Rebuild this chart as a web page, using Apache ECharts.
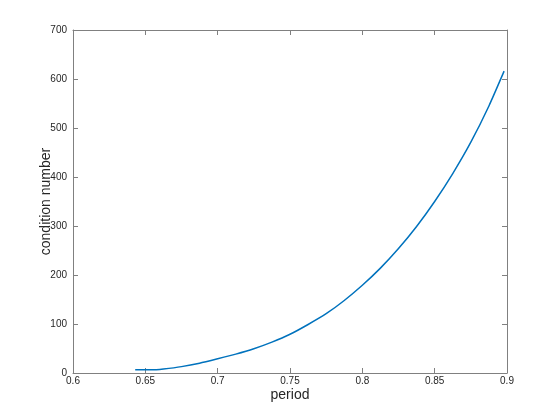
<!DOCTYPE html>
<html>
<head>
<meta charset="utf-8">
<script src="https://cdn.jsdelivr.net/npm/echarts@6/dist/echarts.min.js"></script>
<style>
  html, body { margin: 0; padding: 0; background: #fff; }
  #chart { width: 560px; height: 420px; }
</style>
</head>
<body>
<div id="chart"></div>
<script>
// period values and the condition number
const periods = [0.643, 0.65, 0.6575, 0.6625, 0.675, 0.6875, 0.7, 0.7125, 0.725, 0.7375, 0.75,
  0.7625, 0.775, 0.7875, 0.8, 0.8125, 0.825, 0.8375, 0.85, 0.8625, 0.875, 0.8875, 0.898]
const condNumbers = [6.7, 6.6, 6.8, 8, 13, 20, 29, 38.5, 49.5, 63, 79,
  99, 121, 148, 179, 214, 254, 299, 350, 407, 471, 545, 616]

const xTicks = { min: 0.6, max: 0.9, step: 0.05 }
const yTicks = { min: 0, max: 700, step: 100 }

const axisGray = '#808080'
const textColor = '#262626'
const font = 'Liberation Sans, Arial, Helvetica, sans-serif'

const points = periods.map((p, i) => [p, condNumbers[i]])

const myChart = echarts.init(document.getElementById('chart'))

function baseAxis(extra) {
  return Object.assign({
    type: 'value',
    axisLine: { show: true, onZero: false, lineStyle: { color: axisGray, width: 1 } },
    axisTick: { show: true, inside: true, length: 5, lineStyle: { color: axisGray } },
    splitLine: { show: false }
  }, extra)
}

myChart.setOption({
  animation: false,
  grid: { left: 73, right: 53, top: 30, bottom: 47, containLabel: false },
  xAxis: [
    baseAxis({
      position: 'bottom',
      min: xTicks.min, max: xTicks.max, interval: xTicks.step,
      name: 'period', nameLocation: 'middle', nameGap: 15, nameMoveOverlap: false,
      nameTextStyle: { fontSize: 14, color: textColor, fontFamily: font },
      axisLabel: {
        margin: 3, fontSize: 10, color: textColor, fontFamily: font,
        formatter: v => String(+v.toFixed(2))
      }
    }),
    baseAxis({
      position: 'top',
      min: xTicks.min, max: xTicks.max, interval: xTicks.step,
      axisLabel: { show: false }
    })
  ],
  yAxis: [
    baseAxis({
      position: 'left',
      min: yTicks.min, max: yTicks.max, interval: yTicks.step,
      name: 'condition number', nameLocation: 'middle', nameGap: 20, nameMoveOverlap: false,
      nameTextStyle: { fontSize: 14, color: textColor, fontFamily: font },
      axisLabel: { margin: 6, fontSize: 10, color: textColor, fontFamily: font }
    }),
    baseAxis({
      position: 'right',
      min: yTicks.min, max: yTicks.max, interval: yTicks.step,
      axisLabel: { show: false }
    })
  ],
  series: [
    {
      type: 'line',
      data: points,
      smooth: 0.2,
      showSymbol: false,
      lineStyle: { color: '#0072BD', width: 1.5 }
    }
  ]
})
</script>
</body>
</html>
